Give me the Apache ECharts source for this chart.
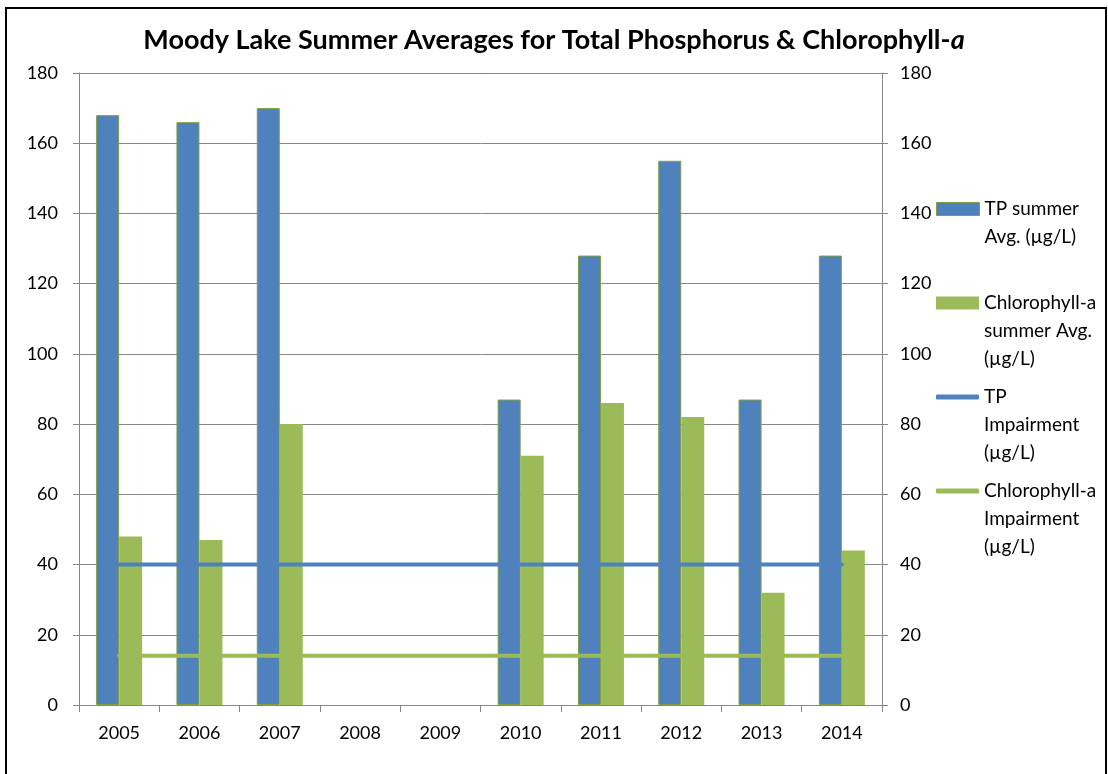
<!DOCTYPE html>
<html>
<head>
<meta charset="utf-8">
<script src="https://cdn.jsdelivr.net/npm/echarts@6/dist/echarts.min.js"></script>
<style>
  html, body { margin: 0; padding: 0; background: #fff; }
  #wrap { position: relative; width: 1108px; height: 774px; overflow: hidden; }
  #chart { width: 1108px; height: 774px; }
  #frame { position: absolute; left: 5px; top: 7px; width: 1098px; height: 800px;
           border: 2px solid #000; pointer-events: none; }
</style>
</head>
<body>
<div id="wrap">
  <div id="chart"></div>
  <div id="frame"></div>
</div>
<script>
// data
const years = ['2005', '2006', '2007', '2008', '2009', '2010', '2011', '2012', '2013', '2014'];
const tpSummer = [168, 166, 170, null, null, 87, 128, 155, 87, 128];
const chlSummer = [48, 47, 80, null, null, 71, 86, 82, 32, 44];
const tpImpair = [40, 40, 40, 40, 40, 40, 40, 40, 40, 40];
const chlImpair = [14, 14, 14, 14, 14, 14, 14, 14, 14, 14];

const names = ['TP summer Avg. (µg/L)', 'Chlorophyll-a summer Avg. (µg/L)', 'TP Impairment (µg/L)', 'Chlorophyll-a Impairment (µg/L)'];
const legendText = ['TP summer\nAvg. (µg/L)', 'Chlorophyll-a\nsummer Avg.\n(µg/L)', 'TP\nImpairment\n(µg/L)', 'Chlorophyll-a\nImpairment\n(µg/L)'];
const legendIconY = [209, 303, 397, 491];

const BLUE = '#4F81BD';
const GREEN = '#9BBB59';
const BAR_EDGE = '#7F9F3F';
const GRID = '#868686';
const FONT = 'Lato, "DejaVu Sans", sans-serif';
const LH = 28;

const legendColors = [
  { color: BLUE, borderColor: BAR_EDGE, borderWidth: 1 },
  { color: GREEN, borderWidth: 0 },
  { color: BLUE, borderWidth: 0 },
  { color: GREEN, borderWidth: 0 }
];

const chart = echarts.init(document.getElementById('chart'));

// one legend per item; blank lines in front keep the icon level with the first text line
const legends = names.map((n, i) => {
  const lines = legendText[i].split('\n').length;
  const h = LH * (2 * lines - 1);
  const txt = '\n'.repeat(lines - 1) + legendText[i];
  const isLine = i >= 2;
  return {
    data: [n],
    left: 936,
    top: legendIconY[i] - h / 2,
    padding: 0,
    orient: 'vertical',
    icon: isLine ? 'roundRect' : 'rect',
    itemWidth: 43,
    itemHeight: isLine ? 5 : 13,
    itemStyle: legendColors[i],
    selectedMode: false,
    formatter: () => txt,
    textStyle: {
      fontFamily: FONT, fontSize: 19, color: '#000',
      lineHeight: LH
    }
  };
});

const yAxisCommon = {
  type: 'value', min: 0, max: 180, interval: 20,
  axisLine: { show: true, lineStyle: { color: GRID, width: 1 } },
  axisTick: { show: true, length: 6, lineStyle: { color: GRID } },
  axisLabel: { fontFamily: FONT, fontSize: 18, color: '#000' }
};

chart.setOption({
  animation: false,
  backgroundColor: '#fff',
  title: {
    text: 'Moody Lake Summer Averages for Total Phosphorus & Chlorophyll-{i|a}',
    left: 'center',
    top: 27,
    padding: 0,
    textStyle: {
      fontFamily: FONT, fontSize: 27, fontWeight: 'bold', color: '#000',
      rich: { i: { fontFamily: FONT, fontSize: 27, fontWeight: 'bold', fontStyle: 'italic', color: '#000' } }
    }
  },
  legend: legends,
  grid: { left: 79, right: 226, top: 73, bottom: 69, containLabel: false },
  xAxis: {
    type: 'category',
    data: years,
    boundaryGap: true,
    axisLine: { lineStyle: { color: GRID, width: 1 } },
    axisTick: { show: true, length: 7, lineStyle: { color: GRID } },
    axisLabel: { fontFamily: FONT, fontSize: 18, color: '#000', margin: 19 }
  },
  yAxis: [
    Object.assign({}, yAxisCommon, {
      position: 'left',
      splitLine: { show: true, lineStyle: { color: GRID, width: 1 } },
      axisLabel: Object.assign({}, yAxisCommon.axisLabel, { margin: 21 })
    }),
    Object.assign({}, yAxisCommon, {
      position: 'right',
      splitLine: { show: false },
      axisLabel: Object.assign({}, yAxisCommon.axisLabel, { margin: 18 })
    })
  ],
  series: [
    {
      name: names[0], type: 'bar', data: tpSummer,
      barWidth: 23, barGap: '0%',
      itemStyle: { color: BLUE, borderColor: BAR_EDGE, borderWidth: 1 }
    },
    {
      name: names[1], type: 'bar', data: chlSummer,
      barWidth: 23, barGap: '0%',
      itemStyle: { color: GREEN }
    },
    {
      name: names[2], type: 'line', data: tpImpair,
      symbol: 'none', showSymbol: false,
      itemStyle: { color: BLUE },
      lineStyle: { color: BLUE, width: 4, cap: 'round' }
    },
    {
      name: names[3], type: 'line', data: chlImpair,
      symbol: 'none', showSymbol: false,
      itemStyle: { color: GREEN },
      lineStyle: { color: GREEN, width: 4, cap: 'round' }
    }
  ]
});
</script>
</body>
</html>
